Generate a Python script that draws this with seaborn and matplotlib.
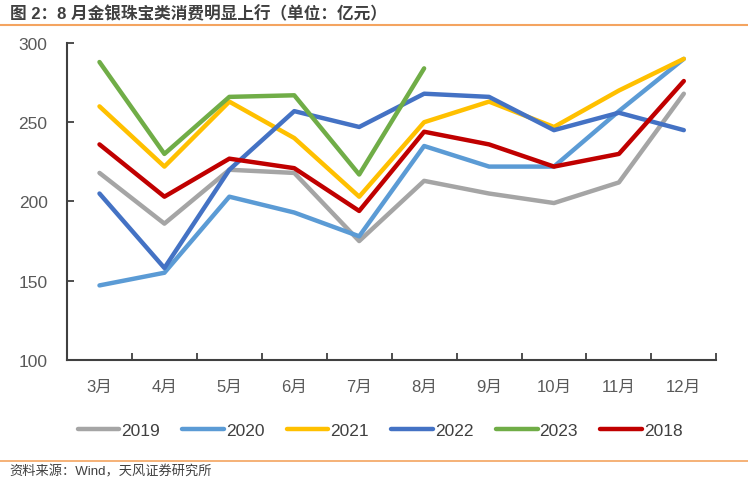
import pandas as pd
import matplotlib
matplotlib.use("Agg")
import matplotlib.pyplot as plt
import seaborn as sns

sns.set_theme(style="white")
plt.rcParams["font.family"] = ["Liberation Sans", "Noto Sans CJK SC", "DejaVu Sans"]

# ---- data ----
months = ["3月", "4月", "5月", "6月", "7月", "8月", "9月", "10月", "11月", "12月"]
v2019 = [218, 186, 220, 218, 175, 213, 205, 199, 212, 268]
v2020 = [147, 155, 203, 193, 178, 235, 222, 222, 257, 290]
v2021 = [260, 222, 263, 240, 203, 250, 263, 247, 270, 290]
v2022 = [205, 158, 220, 257, 247, 268, 266, 245, 256, 245]
v2023 = [288, 230, 266, 267, 217, 284]
v2018 = [236, 203, 227, 221, 194, 244, 236, 222, 230, 276]

years = ["2019", "2020", "2021", "2022", "2023", "2018"]
series = [v2019, v2020, v2021, v2022, v2023, v2018]
colors = ["#A5A5A5", "#5B9BD5", "#FFC000", "#4472C4", "#70AD47", "#C00000"]

rows = []
for yr, vals in zip(years, series):
    for i, v in enumerate(vals):
        rows.append({"year": yr, "idx": i, "value": v})
df = pd.DataFrame(rows)

# ---- figure ----
fig = plt.figure(figsize=(7.48, 4.89), dpi=100)
ax = fig.add_axes([0.0896, 0.262, 0.868, 0.648])

sns.lineplot(data=df, x="idx", y="value", hue="year", hue_order=years,
             palette=dict(zip(years, colors)), linewidth=3.2, sort=False,
             ax=ax, legend=True)

ax.set_xlim(-0.5, len(months) - 0.5)
ax.set_ylim(100, 300)
ax.set_yticks([100, 150, 200, 250, 300])
ax.set_xticks(range(len(months)))
ax.set_xticklabels(months)
ax.set_xticks([i - 0.5 for i in range(len(months) + 1)], minor=True)
ax.set_xlabel("")
ax.set_ylabel("")

for s in ["top", "right"]:
    ax.spines[s].set_visible(False)
for s in ["left", "bottom"]:
    ax.spines[s].set_color("#404040")
    ax.spines[s].set_linewidth(1.5)

ax.tick_params(axis="x", which="major", length=0, pad=14, labelsize=12, labelcolor="#595959")
ax.tick_params(axis="x", which="minor", direction="in", length=5, width=1.3, color="#404040", bottom=True)
ax.tick_params(axis="y", direction="in", length=5, width=1.3, color="#404040", left=True,
               pad=14, labelsize=12.5, labelcolor="#595959")

leg = ax.legend(loc="center", bbox_to_anchor=(0.508, 0.117), bbox_transform=fig.transFigure,
                ncol=6, frameon=False, fontsize=12.5, handlelength=2.4, columnspacing=1.3,
                handletextpad=0.1, labelcolor="#404040")
for h in leg.get_lines():
    h.set_solid_capstyle("round")

# title and source with orange rules
fig.text(0.013, 0.972, "图 2：8 月金银珠宝类消费明显上行（单位：亿元）", fontsize=12,
         fontweight="bold", color="#404040", va="center", ha="left")
fig.add_artist(plt.Line2D([0, 1], [0.946, 0.946], color="#F4A460", lw=1.5, transform=fig.transFigure))
fig.add_artist(plt.Line2D([0, 1], [0.055, 0.055], color="#F4A460", lw=1.2, transform=fig.transFigure))
fig.text(0.013, 0.034, "资料来源：Wind，天风证券研究所", fontsize=9.5, color="#404040",
         va="center", ha="left")

fig.savefig("out.png", dpi=100)
